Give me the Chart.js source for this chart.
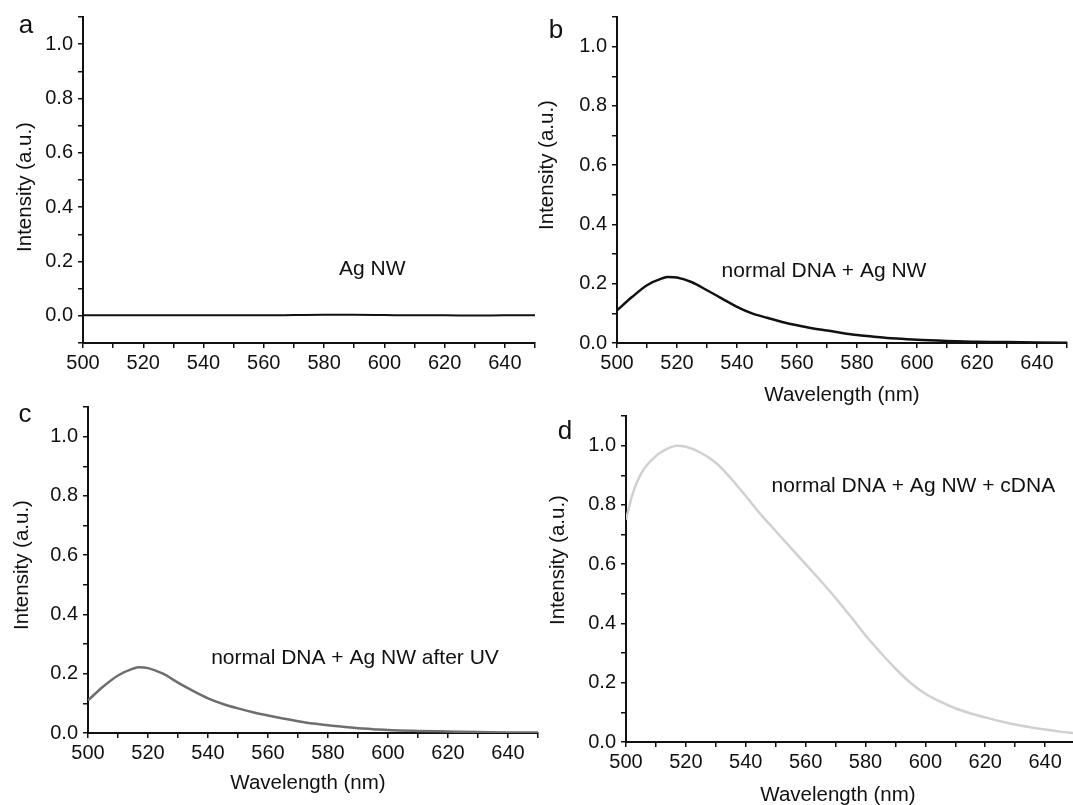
<!DOCTYPE html>
<html>
<head>
<meta charset="utf-8">
<title>Fluorescence spectra</title>
<script src="https://cdn.jsdelivr.net/npm/chart.js@4.4.0/dist/chart.umd.min.js"></script>
<style>
html, body { margin: 0; padding: 0; background: #fff; overflow: hidden; }
#page { position: relative; width: 1073px; height: 805px; overflow: hidden; }
.panel { position: absolute; }
</style>
</head>
<body>
<div id="page">
  <div class="panel" style="left:0px;top:0px"><canvas id="chartA" width="545" height="400"></canvas></div>
  <div class="panel" style="left:535px;top:0px"><canvas id="chartB" width="538" height="405"></canvas></div>
  <div class="panel" style="left:0px;top:390px"><canvas id="chartC" width="545" height="415"></canvas></div>
  <div class="panel" style="left:540px;top:399px"><canvas id="chartD" width="545" height="406"></canvas></div>
</div>
<script>
// wavelengths (nm) and intensities (a.u.)
var wlA = [500, 510, 520, 530, 540, 550, 560, 570, 580, 585, 590, 600, 610, 620, 630, 640, 650];
var agNW = [0.002, 0.002, 0.002, 0.002, 0.002, 0.002, 0.002, 0.003, 0.004, 0.004, 0.004, 0.003, 0.002, 0.002, 0.001, 0.002, 0.002];

var wlB = [500, 505, 510, 515, 517, 520, 525, 530, 535, 540, 545, 550, 555, 560, 565, 570, 575, 580, 585, 590, 595, 600, 610, 620, 630, 640, 650];
var dnaAgNW = [0.11, 0.155, 0.195, 0.218, 0.223, 0.221, 0.205, 0.178, 0.15, 0.122, 0.1, 0.085, 0.071, 0.06, 0.05, 0.042, 0.034, 0.027, 0.022, 0.017, 0.014, 0.011, 0.007, 0.004, 0.003, 0.002, 0.001];
var dnaAgNWuv = [0.11, 0.156, 0.194, 0.217, 0.222, 0.219, 0.2, 0.17, 0.142, 0.117, 0.098, 0.083, 0.07, 0.059, 0.049, 0.04, 0.032, 0.026, 0.021, 0.016, 0.013, 0.01, 0.007, 0.005, 0.003, 0.002, 0.002];

var wlD = [500, 502, 505, 510, 515, 517, 520, 525, 530, 535, 540, 545, 550, 555, 560, 565, 570, 575, 580, 585, 590, 595, 600, 605, 610, 615, 620, 625, 630, 635, 640, 645, 650];
var dnaAgNWcDNA = [0.75, 0.83, 0.905, 0.965, 0.995, 1.0, 0.996, 0.976, 0.942, 0.89, 0.83, 0.768, 0.712, 0.656, 0.6, 0.544, 0.486, 0.424, 0.36, 0.302, 0.248, 0.2, 0.163, 0.136, 0.114, 0.097, 0.083, 0.07, 0.059, 0.05, 0.042, 0.035, 0.029];

var FONT = '"Liberation Sans", Arial, Helvetica, sans-serif';
Chart.defaults.font.family = FONT;
Chart.defaults.color = '#111';

// letters, axis titles and the text inside each plot
var panelText = {
    id: 'panelText',
    afterDraw: function(chart, args, o) {
        var c = chart.ctx;
        c.save();
        c.fillStyle = '#111';
        c.textAlign = 'center';
        c.textBaseline = 'middle';

        c.font = '26px ' + FONT;
        c.fillText(o.letter, o.letterX, o.letterY);

        c.font = '20.5px ' + FONT;
        c.save();
        c.translate(o.yTitleX, o.yTitleY);
        c.rotate(-Math.PI / 2);
        c.fillText('Intensity (a.u.)', 0, 0);
        c.restore();

        if (o.xTitle) {
            c.fillText('Wavelength (nm)', o.xTitleX, o.xTitleY);
        }

        c.font = '21px ' + FONT;
        c.fillText(o.note, chart.scales.x.getPixelForValue(o.noteX), chart.scales.y.getPixelForValue(o.noteY));
        c.restore();
    }
};

function xLabel(value) {
    return (value % 20 === 0 && value < 650) ? String(value) : '';
}

function yLabel(value) {
    var v = Math.round(value * 10);
    return (v % 2 === 0 && v >= 0 && v <= 10) ? (v / 10).toFixed(1) : '';
}

function makePanel(id, wl, values, color, lineW, yMin, yw, right, text) {
    var ctx = document.getElementById(id);
    var points = [];
    for (var i = 0; i < wl.length; i++) {
        points.push({x: wl[i], y: values[i]});
    }
    var xh = ctx.height - 343;

    return new Chart(ctx, {
        type: 'line',
        data: {
            datasets: [{
                data: points,
                borderColor: color,
                borderWidth: lineW,
                pointRadius: 0,
                fill: false,
                cubicInterpolationMode: 'monotone'
            }]
        },
        options: {
            responsive: false,
            animation: false,
            layout: { padding: { left: 0, top: 13, right: right, bottom: 0 } },
            plugins: {
                legend: { display: false },
                tooltip: { enabled: false },
                panelText: text
            },
            scales: {
                x: {
                    type: 'linear',
                    min: 500,
                    max: 650,
                    afterFit: function(s) { s.height = xh; },
                    border: { color: '#111', width: 2 },
                    grid: { drawOnChartArea: false, tickLength: 5, color: '#111', lineWidth: 1.5 },
                    ticks: { stepSize: 10, autoSkip: false, maxRotation: 0, padding: 3, font: { size: 20 }, callback: xLabel }
                },
                y: {
                    type: 'linear',
                    min: yMin,
                    max: 1.1,
                    afterFit: function(s) { s.width = yw; },
                    border: { color: '#111', width: 2 },
                    grid: { drawOnChartArea: false, tickLength: 5, color: '#111', lineWidth: 1.5 },
                    ticks: { stepSize: 0.1, autoSkip: false, padding: 5, font: { size: 20 }, callback: yLabel }
                }
            }
        },
        plugins: [panelText]
    });
}

makePanel('chartA', wlA, agNW, '#111', 2, -0.1, 83, 10, {
    letter: 'a', letterX: 26, letterY: 26,
    yTitleX: 25, yTitleY: 187,
    xTitle: false,
    note: 'Ag NW', noteX: 596, noteY: 0.173
});

makePanel('chartB', wlB, dnaAgNW, '#111', 2.5, 0, 82, 6, {
    letter: 'b', letterX: 21, letterY: 31,
    yTitleX: 12, yTitleY: 165,
    xTitle: true, xTitleX: 307, xTitleY: 395,
    note: 'normal DNA + Ag NW', noteX: 569, noteY: 0.243
});

makePanel('chartC', wlB, dnaAgNWuv, '#6e6e6e', 2.5, 0, 88, 7, {
    letter: 'c', letterX: 25, letterY: 25,
    yTitleX: 22, yTitleY: 175,
    xTitle: true, xTitleX: 308, xTitleY: 393,
    note: 'normal DNA + Ag NW after UV', noteX: 589, noteY: 0.253
});

makePanel('chartD', wlD, dnaAgNWcDNA, '#d0d0d0', 2.5, 0, 86, 10, {
    letter: 'd', letterX: 25, letterY: 33,
    yTitleX: 18, yTitleY: 161,
    xTitle: true, xTitleX: 298, xTitleY: 396,
    note: 'normal DNA + Ag NW + cDNA', noteX: 596, noteY: 0.863
});
</script>
</body>
</html>
